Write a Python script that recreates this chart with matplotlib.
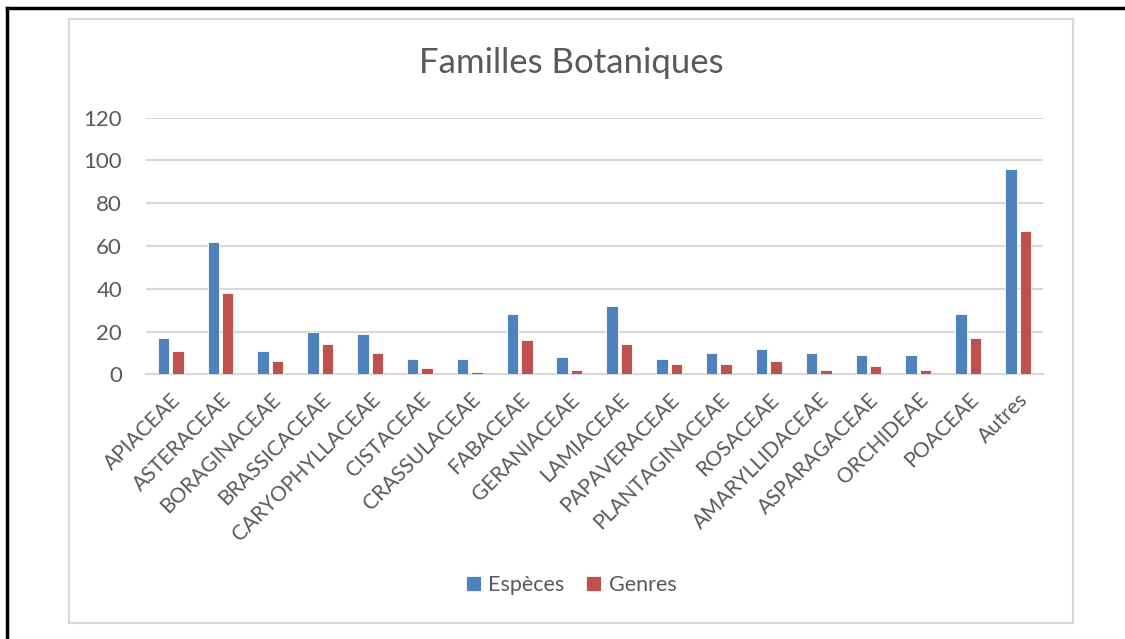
import matplotlib
matplotlib.use("Agg")
import matplotlib.pyplot as plt
from matplotlib.patches import Rectangle
from matplotlib.lines import Line2D
import numpy as np

categories = ["APIACEAE", "ASTERACEAE", "BORAGINACEAE", "BRASSICACEAE", "CARYOPHYLLACEAE",
              "CISTACEAE", "CRASSULACEAE", "FABACEAE", "GERANIACEAE", "LAMIACEAE",
              "PAPAVERACEAE", "PLANTAGINACEAE", "ROSACEAE", "AMARYLLIDACEAE",
              "ASPARAGACEAE", "ORCHIDEAE", "POACEAE", "Autres"]
especes = [17, 62, 11, 20, 19, 7, 7, 28, 8, 32, 7, 10, 12, 10, 9, 9, 28, 96]
genres = [11, 38, 6, 14, 10, 3, 1, 16, 2, 14, 5, 5, 6, 2, 4, 2, 17, 67]
series_names = ["Espèces", "Genres"]
yticks = [0, 20, 40, 60, 80, 100, 120]
title = "Familles Botaniques"

plt.rcParams['font.family'] = ['Lato', 'DejaVu Sans']
W, H = 1125, 639
fig = plt.figure(figsize=(W / 100, H / 100), dpi=100)
fig.patch.set_facecolor("white")

# borders
fig.add_artist(Rectangle((69 / W, 1 - 623 / H), (1073 - 69) / W, (623 - 19) / H,
                         transform=fig.transFigure, fill=False, edgecolor="#D9D9D9", lw=1.5))
fig.add_artist(Line2D([7 / W, 1.0], [1 - 8 / H, 1 - 8 / H], transform=fig.transFigure,
                      color="black", lw=2.5))
fig.add_artist(Line2D([7 / W, 7 / W], [0, 1 - 8 / H], transform=fig.transFigure,
                      color="black", lw=2.5))

left, right = 145.7 / W, 1043 / W
bottom, top = 1 - 374.3 / H, 1 - 117.7 / H
ax = fig.add_axes([left, bottom, right - left, top - bottom])

x = np.arange(len(categories))
bw = 0.23
blue, red = "#4F81BD", "#C0504D"
ax.bar(x - 0.145, especes, width=bw, color=blue, edgecolor="white", linewidth=0.6,
       label=series_names[0], zorder=3)
ax.bar(x + 0.145, genres, width=bw, color=red, edgecolor="white", linewidth=0.6,
       label=series_names[1], zorder=3)

ax.set_xlim(-0.5, len(categories) - 0.5)
ax.set_ylim(0, 120)
ax.set_yticks(yticks)
ax.yaxis.grid(True, color="#D9D9D9", lw=1.5, zorder=0)
ax.set_axisbelow(True)
for s in ["top", "right", "left"]:
    ax.spines[s].set_visible(False)
ax.spines["bottom"].set_color("#D9D9D9")
ax.spines["bottom"].set_linewidth(1.5)
ax.tick_params(axis="both", length=0, colors="#595959", labelsize=16)
ax.tick_params(axis="y", pad=17)
ax.set_xticks(x)
ax.set_xticklabels(categories, rotation=45, ha="right", rotation_mode="anchor",
                   fontsize=15, color="#595959")
ax.tick_params(axis="x", pad=11)

fig.text(0.5 * (69 + 1073) / W, 1 - 63 / H, title, ha="center", va="center",
         fontsize=25, color="#595959")

leg = fig.legend(loc="center", bbox_to_anchor=(571 / W, 1 - 585 / H), ncol=2,
                 frameon=False, fontsize=15.5, handlelength=0.7, handleheight=0.7,
                 columnspacing=1.0, handletextpad=0.35)
for t in leg.get_texts():
    t.set_color("#595959")

fig.savefig("out.png", dpi=100, facecolor="white")
